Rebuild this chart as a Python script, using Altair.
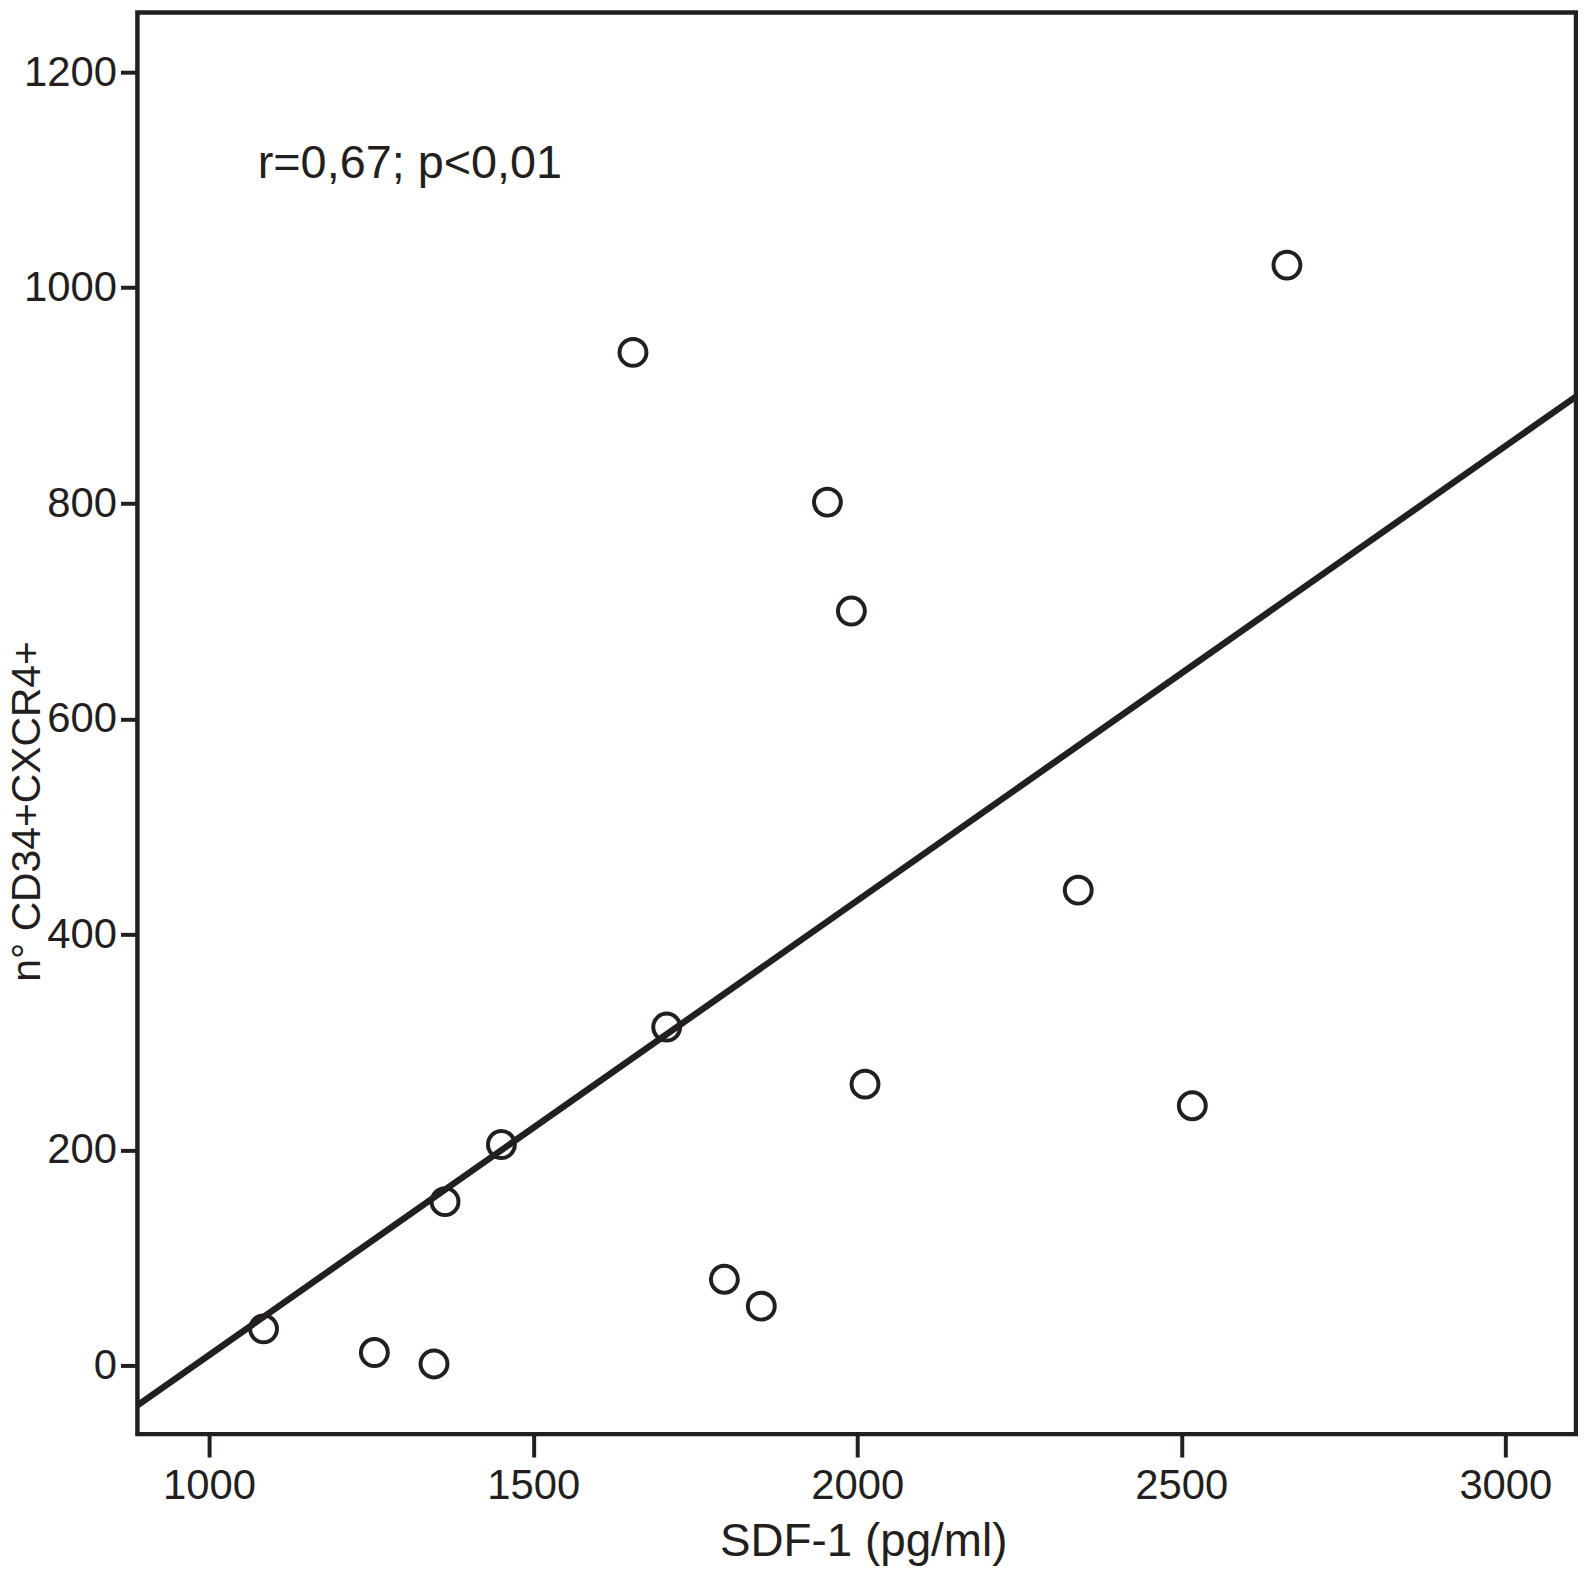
import altair as alt
import pandas as pd

# Scatter data
sdf1 = [1084, 1255, 1347, 1364, 1451, 1654, 1706, 1795, 1852, 1954, 1991, 2012, 2341, 2517, 2663]
cd34 = [34, 12, 1.4, 152, 205, 940, 314, 80, 55, 801, 700, 261, 441, 241, 1021]

# Fitted line endpoints (at the frame edges)
fit_x = [889.4, 3109]
fit_y = [-37, 899]

# Annotation
note_text = ["r=0,67; p<0,01"]
note_x = [1075]
note_y = [1102]

x_ticks = [1000, 1500, 2000, 2500, 3000]
y_ticks = [0, 200, 400, 600, 800, 1000, 1200]

x_domain = [889.4, 3109]
y_domain = [-63.7, 1255.4]

INK = "#231f20"
FONT = "Liberation Sans"

pts = pd.DataFrame({"sdf": sdf1, "cd": cd34})
fit = pd.DataFrame({"sdf": fit_x, "cd": fit_y})
note = pd.DataFrame({"sdf": note_x, "cd": note_y, "t": note_text})

xscale = alt.Scale(domain=x_domain, nice=False, zero=False)
yscale = alt.Scale(domain=y_domain, nice=False, zero=False)

xaxis = alt.Axis(
    values=x_ticks, format="d", title="SDF-1 (pg/ml)", grid=False, domain=False,
    tickSize=23, tickWidth=4, tickColor=INK,
    labelFontSize=42, labelFont=FONT, labelColor=INK, labelPadding=9,
    titleFontSize=46, titleFont=FONT, titleColor=INK, titleFontWeight="normal",
    titleBaseline="alphabetic", titleY=122, titleX=729, titleAlign="center",
    labelFlush=False,
)
yaxis = alt.Axis(
    values=y_ticks, format="d", title="n° CD34+CXCR4+", grid=False, domain=False,
    tickSize=17, tickWidth=4, tickColor=INK,
    labelFontSize=42, labelFont=FONT, labelColor=INK, labelPadding=4,
    titleFontSize=41, titleFont=FONT, titleColor=INK, titleFontWeight="normal",
    titleAngle=270, titleBaseline="alphabetic", titleX=-98, titleY=802,
    titleAlign="center", labelFlush=False,
)

points = alt.Chart(pts).mark_point(
    shape="circle", filled=False, size=729, stroke=INK, strokeWidth=4, opacity=1
).encode(
    x=alt.X("sdf:Q", scale=xscale, axis=xaxis),
    y=alt.Y("cd:Q", scale=yscale, axis=yaxis),
)

line = alt.Chart(fit).mark_line(color=INK, strokeWidth=6.5, clip=True).encode(
    x=alt.X("sdf:Q", scale=xscale),
    y=alt.Y("cd:Q", scale=yscale),
)

label = alt.Chart(note).mark_text(
    align="left", baseline="alphabetic", fontSize=47, font=FONT, color=INK
).encode(
    x=alt.X("sdf:Q", scale=xscale),
    y=alt.Y("cd:Q", scale=yscale),
    text="t:N",
)

chart = alt.layer(points, line, label).properties(
    width=1445,
    height=1428,
    autosize=alt.AutoSizeParams(type="none"),
    padding={"left": 130, "top": 1, "right": 2, "bottom": 132},
    background="white",
).configure_view(
    stroke=INK, strokeWidth=4.5
)

chart.save("out.html", embed_options={"renderer": "svg", "actions": False})
